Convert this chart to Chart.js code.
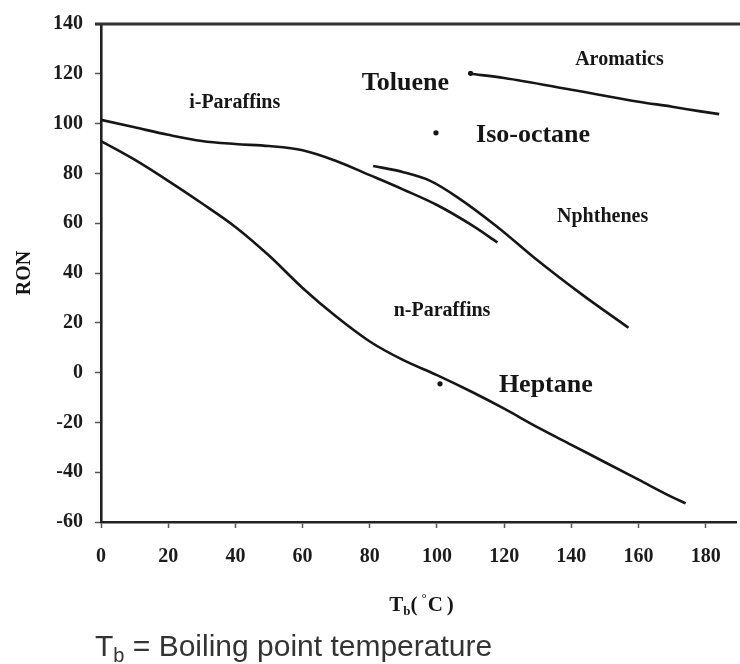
<!DOCTYPE html>
<html>
<head>
<meta charset="utf-8">
<script src="https://cdn.jsdelivr.net/npm/chart.js@4.4.1/dist/chart.umd.min.js"></script>
<style>
  html, body { margin: 0; padding: 0; background: #fff; }
  #wrap { width: 740px; height: 664px; position: relative; }
</style>
</head>
<body>
<div id="wrap"><canvas id="chart" width="740" height="664"></canvas></div>
<script>
// Boiling point (°C) vs research octane number for hydrocarbon families
const xTicks = [0, 20, 40, 60, 80, 100, 120, 140, 160, 180];
const yTicks = [-60, -40, -20, 0, 20, 40, 60, 80, 100, 120, 140];

// i-Paraffins boundary
const isoParTb  = [0, 10, 20, 30, 40, 50, 60, 70, 80, 90, 100, 110, 118];
const isoParRon = [101.5, 98.5, 95.5, 93, 91.8, 91, 89.3, 85, 79.3, 73.5, 67.3, 59.5, 52.3];

// n-Paraffins line
const nParTb  = [0, 10, 20, 30, 40, 50, 60, 70, 80, 90, 100, 110, 120, 130, 140, 150, 160, 170, 174];
const nParRon = [93, 85.5, 77, 68, 58.5, 47, 34, 22.5, 12.5, 5, -1, -7.5, -14.5, -22, -29, -36, -43, -50, -52.5];

// Naphthenes line
const naphTb  = [81, 90, 98, 106, 118, 130, 143, 157];
const naphRon = [83, 80.5, 77, 70.5, 58.5, 45, 31.5, 18];

// Aromatics line
const aromTb  = [110, 120, 140, 160, 170, 178, 184];
const aromRon = [120, 118.3, 113.6, 108.8, 106.8, 105, 103.8];

// Reference compounds
const compoundNames = ['Toluene', 'Iso-octane', 'Heptane'];
const compoundTb    = [110, 99.7, 100.9];
const compoundRon   = [120.2, 96.3, -4.5];
// where each compound name sits (data units)
const compoundLabelTb  = [90.6, 128.6, 132.4];
const compoundLabelRon = [116.3, 95.3, -5];

// Family names placed in their regions (data units)
const regionNames    = ['Aromatics', 'i-Paraffins', 'Nphthenes', 'n-Paraffins'];
const regionLabelTb  = [154.3, 39.8, 149.3, 101.5];
const regionLabelRon = [125.8, 108.4, 62.5, 25];

const xTitle = ['T', 'b', '(', '°', 'C', ')'];
const yTitle = 'RON';
const caption = ['T', 'b', ' = Boiling point temperature'];

const toPoints = (xs, ys) => xs.map((x, i) => ({ x, y: ys[i] }));

const SERIF = '"Liberation Serif", "Times New Roman", serif';
const INK = '#161616';

const lineStyle = {
  showLine: true,
  pointRadius: 0,
  borderColor: INK,
  borderWidth: 2.6,
  tension: 0.4,
  cubicInterpolationMode: 'monotone',
  fill: false
};

const textPlugin = {
  id: 'chartTexts',
  afterDatasetsDraw(chart) {
    const { ctx, scales: { x, y } } = chart;
    ctx.save();
    ctx.fillStyle = INK;
    ctx.textAlign = 'center';
    ctx.textBaseline = 'middle';
    ctx.font = 'bold 20px ' + SERIF;
    regionNames.forEach((t, i) => {
      ctx.fillText(t, x.getPixelForValue(regionLabelTb[i]), y.getPixelForValue(regionLabelRon[i]));
    });
    ctx.font = 'bold 26px ' + SERIF;
    compoundNames.forEach((t, i) => {
      ctx.fillText(t, x.getPixelForValue(compoundLabelTb[i]), y.getPixelForValue(compoundLabelRon[i]));
    });
    ctx.restore();
  },
  afterDraw(chart) {
    const { ctx, chartArea } = chart;
    ctx.save();
    // top frame line
    ctx.strokeStyle = '#333';
    ctx.lineWidth = 3;
    ctx.beginPath();
    ctx.moveTo(chartArea.left - 6, chartArea.top);
    ctx.lineTo(chart.width, chartArea.top);
    ctx.stroke();

    // y axis title
    ctx.fillStyle = INK;
    ctx.font = 'bold 20px ' + SERIF;
    ctx.textAlign = 'center';
    ctx.textBaseline = 'middle';
    ctx.translate(25, (chartArea.top + chartArea.bottom) / 2);
    ctx.rotate(-Math.PI / 2);
    ctx.fillText(yTitle, 0, 0);
    ctx.restore();

    // x axis title: T_b( °C )
    ctx.save();
    ctx.fillStyle = INK;
    ctx.textBaseline = 'alphabetic';
    const big = 'bold 21px ' + SERIF, small = 'bold 13px ' + SERIF;
    const parts = [
      { t: xTitle[0], f: big, dy: 0, gap: 0 },
      { t: xTitle[1], f: small, dy: 4, gap: 0 },
      { t: xTitle[2], f: big, dy: 0, gap: 0 },
      { t: xTitle[3], f: small, dy: -9, gap: 4 },
      { t: xTitle[4], f: big, dy: 0, gap: 1 },
      { t: xTitle[5], f: big, dy: 0, gap: 4 }
    ];
    let total = 0;
    parts.forEach(p => { ctx.font = p.f; p.w = ctx.measureText(p.t).width; total += p.w + p.gap; });
    let cx = (chartArea.left + chartArea.right) / 2 - total / 2 + 3;
    const base = 611;
    parts.forEach(p => {
      cx += p.gap;
      ctx.font = p.f;
      ctx.fillText(p.t, cx, base + p.dy);
      cx += p.w;
    });

    // caption below the chart
    ctx.fillStyle = '#333';
    const capBase = 656;
    let px = 95;
    ctx.font = '30px "Liberation Sans", Arial, sans-serif';
    ctx.fillText(caption[0], px, capBase);
    px += ctx.measureText(caption[0]).width;
    ctx.font = '20px "Liberation Sans", Arial, sans-serif';
    ctx.fillText(caption[1], px, capBase + 6);
    px += ctx.measureText(caption[1]).width;
    ctx.font = '30px "Liberation Sans", Arial, sans-serif';
    ctx.fillText(caption[2], px, capBase);
    ctx.restore();
  }
};

new Chart(document.getElementById('chart'), {
  type: 'scatter',
  data: {
    datasets: [
      { label: 'i-Paraffins', data: toPoints(isoParTb, isoParRon), ...lineStyle },
      { label: 'n-Paraffins', data: toPoints(nParTb, nParRon), ...lineStyle },
      { label: 'Naphthenes', data: toPoints(naphTb, naphRon), ...lineStyle },
      { label: 'Aromatics', data: toPoints(aromTb, aromRon), ...lineStyle },
      {
        label: 'Compounds',
        data: toPoints(compoundTb, compoundRon),
        showLine: false,
        pointRadius: 2.6,
        pointBackgroundColor: INK,
        pointBorderWidth: 0
      }
    ]
  },
  options: {
    responsive: false,
    animation: false,
    events: [],
    layout: { padding: { top: 16, right: 0, bottom: 0, left: 0 } },
    plugins: { legend: { display: false }, tooltip: { enabled: false } },
    scales: {
      x: {
        type: 'linear',
        min: 0,
        max: 189,
        afterFit: s => { s.height = 142; },
        afterBuildTicks: s => { s.ticks = xTicks.map(v => ({ value: v })); },
        ticks: {
          includeBounds: false,
          autoSkip: false,
          maxRotation: 0,
          padding: 17,
          color: '#1c1c1c',
          font: { family: SERIF, size: 20, weight: 'bold' }
        },
        grid: { display: true, drawOnChartArea: false, drawTicks: true, tickLength: 6, tickColor: '#555', tickWidth: 1.5 },
        border: { display: true, color: '#222', width: 2.6 }
      },
      y: {
        type: 'linear',
        min: -60,
        max: 140,
        afterFit: s => { s.width = 101; },
        afterBuildTicks: s => { s.ticks = yTicks.map(v => ({ value: v })); },
        ticks: {
          includeBounds: false,
          autoSkip: false,
          padding: 12,
          color: '#1c1c1c',
          font: { family: SERIF, size: 20, weight: 'bold' }
        },
        grid: { display: true, drawOnChartArea: false, drawTicks: true, tickLength: 6, tickColor: '#555', tickWidth: 1.5 },
        border: { display: true, color: '#222', width: 2.6 }
      }
    }
  },
  plugins: [textPlugin]
});
</script>
</body>
</html>
